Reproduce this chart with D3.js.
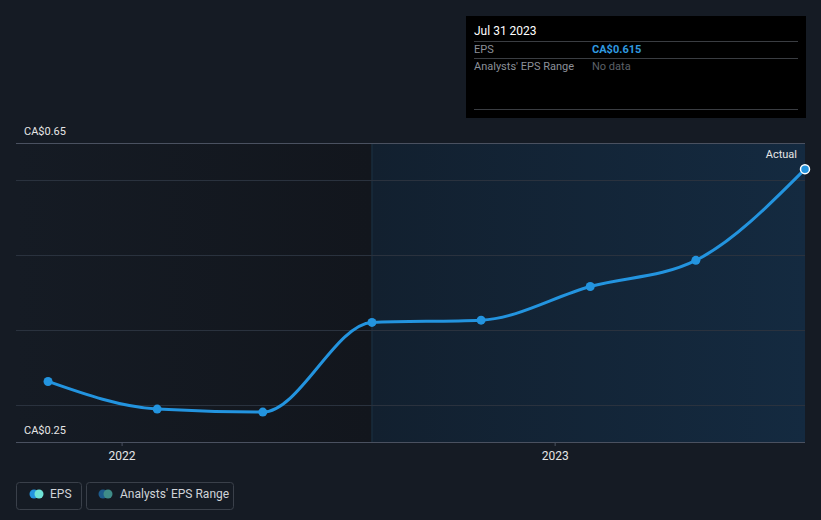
<!DOCTYPE html>
<html><head><meta charset="utf-8">
<script src="https://cdn.jsdelivr.net/npm/d3@7"></script>
<style>
html,body{margin:0;padding:0;background:#151b24;}
svg{display:block;font-family:Roboto,"Open Sans",sans-serif;}
</style></head>
<body>
<svg id="c" width="821" height="520"></svg>
<script>
const dates = ["2021-10-31","2022-01-31","2022-04-30","2022-07-31","2022-10-31","2023-01-31","2023-04-30","2023-07-31"];
const eps = [0.331, 0.294, 0.290, 0.410, 0.413, 0.458, 0.493, 0.615];
const yTicks = [0.25, 0.3, 0.4, 0.5, 0.6, 0.65];
const yLabels = ["CA$0.25", "CA$0.65"];
const xTicks = ["2022-01-01", "2023-01-01"];
const actualStart = "2022-07-31";

const parse = d3.timeParse("%Y-%m-%d");
const data = dates.map((d,i)=>({date:parse(d), v:eps[i]}));
const svg = d3.select("#c");
const L=16, R=805, T=143, B=442;
const x = d3.scaleTime().domain([parse("2021-10-04"), parse("2023-07-31")]).range([L,R]);
const y = d3.scaleLinear().domain([0.25,0.65]).range([B,T]);

const defs = svg.append("defs");
const g1 = defs.append("linearGradient").attr("id","past");
g1.append("stop").attr("offset","0").attr("stop-color","#151b24");
g1.append("stop").attr("offset","1").attr("stop-color","#12161d");
const g2 = defs.append("linearGradient").attr("id","fut");
g2.append("stop").attr("offset","0").attr("stop-color","#12202f");
g2.append("stop").attr("offset","1").attr("stop-color","#142a40");

const xs = x(parse(actualStart));
svg.append("rect").attr("x",L).attr("y",T).attr("width",xs-L).attr("height",B-T).attr("fill","url(#past)");
svg.append("rect").attr("x",xs).attr("y",T).attr("width",R-xs).attr("height",B-T).attr("fill","url(#fut)");
svg.append("line").attr("x1",xs).attr("x2",xs).attr("y1",T).attr("y2",B).attr("stroke","#1c3346").attr("stroke-width",1);

// gridlines
yTicks.filter(t=>t>0.25 && t<0.65).forEach(t=>{
  svg.append("line").attr("x1",L).attr("x2",R).attr("y1",Math.round(y(t))+0.5).attr("y2",Math.round(y(t))+0.5)
    .attr("stroke","#2a323e").attr("stroke-width",1);
});
svg.append("line").attr("x1",L).attr("x2",R).attr("y1",T+0.5).attr("y2",T+0.5).attr("stroke","#4a5160").attr("stroke-width",1);

// x axis
const xa = svg.append("g").attr("transform",`translate(0,${B})`)
  .call(d3.axisBottom(x).tickValues(xTicks.map(parse)).tickFormat(d3.timeFormat("%Y")).tickSize(4).tickPadding(5));
xa.select(".domain").attr("stroke","#4a5160").attr("d",`M${L},0.5H${R}`);
xa.selectAll(".tick line").attr("stroke","#4a5160");
xa.selectAll("text").attr("fill","#e6e6e6").attr("font-size",12).attr("font-family","Roboto,sans-serif");

// y labels
[0.25,0.65].forEach((t,i)=>{
  svg.append("text").attr("x",24).attr("y",y(t)-8).attr("fill","#e6e6e6").attr("font-size",11).text(yLabels[i]);
});

svg.append("text").attr("x",797).attr("y",158).attr("text-anchor","end").attr("fill","#e6e6e6").attr("font-size",11).text("Actual");

// line
const line = d3.line().x(d=>x(d.date)).y(d=>y(d.v)).curve(d3.curveMonotoneX);
svg.append("path").datum(data).attr("d",line).attr("fill","none").attr("stroke","#2394df").attr("stroke-width",3);
svg.selectAll("circle.pt").data(data).join("circle").attr("class","pt")
  .attr("cx",d=>x(d.date)).attr("cy",d=>y(d.v)).attr("r",(d,i)=>i===data.length-1?4.5:4.5)
  .attr("fill","#2394df")
  .attr("stroke",(d,i)=>i===data.length-1?"#ffffff":"none").attr("stroke-width",1.5);

// tooltip
const tt = svg.append("g");
tt.append("rect").attr("x",466).attr("y",16).attr("width",340).attr("height",102).attr("fill","#000");
tt.append("text").attr("x",474).attr("y",35).attr("fill","#fff").attr("font-size",12).text("Jul 31 2023");
[41,58,109].forEach(yy=>tt.append("line").attr("x1",474).attr("x2",798).attr("y1",yy+0.5).attr("y2",yy+0.5).attr("stroke","#3a3d42"));
tt.append("text").attr("x",474).attr("y",53).attr("fill","#8c9099").attr("font-size",11).text("EPS");
tt.append("text").attr("x",592).attr("y",53).attr("fill","#2f9ae0").attr("font-size",11).attr("font-weight","bold").text("CA$" + eps[eps.length-1].toFixed(3));
tt.append("text").attr("x",474).attr("y",70).attr("fill","#8c9099").attr("font-size",11).text("Analysts' EPS Range");
tt.append("text").attr("x",592).attr("y",70).attr("fill","#5c6068").attr("font-size",11).text("No data");

// legend
const lg = svg.append("g");
lg.append("rect").attr("x",16.5).attr("y",482.5).attr("width",65).attr("height",27).attr("rx",3).attr("fill","none").attr("stroke","#3a404a");
lg.append("circle").attr("cx",34).attr("cy",494).attr("r",4.5).attr("fill","#2394df");
lg.append("circle").attr("cx",39).attr("cy",494).attr("r",4.5).attr("fill","#6fe3d6");
lg.append("text").attr("x",50).attr("y",498).attr("fill","#d0d3d8").attr("font-size",12).text("EPS");
lg.append("rect").attr("x",86.5).attr("y",482.5).attr("width",147).attr("height",27).attr("rx",3).attr("fill","none").attr("stroke","#3a404a");
lg.append("circle").attr("cx",103).attr("cy",494).attr("r",4.5).attr("fill","#1d5b8c");
lg.append("circle").attr("cx",108).attr("cy",494).attr("r",4.5).attr("fill","#3f8c88");
lg.append("text").attr("x",120).attr("y",498).attr("fill","#d0d3d8").attr("font-size",12).text("Analysts' EPS Range");
</script>
</body></html>
